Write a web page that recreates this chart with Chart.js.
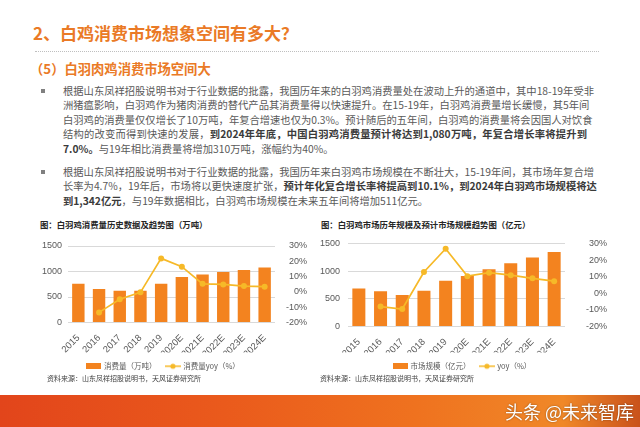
<!DOCTYPE html>
<html><head><meta charset="utf-8">
<script src="https://cdn.jsdelivr.net/npm/chart.js@4"></script>
<style>
body{margin:0;width:640px;height:427px;position:relative;overflow:hidden;background:#fff;font-family:"Noto Sans CJK SC",sans-serif;}
.abs{position:absolute;white-space:nowrap;}
#title{left:33px;top:22px;font-size:17px;font-weight:bold;color:#EA7A26;line-height:22px;}
#dots{left:35px;top:51px;width:564px;height:0;border-top:1px dotted #BFBFBF;}
#sub{left:30px;top:60px;font-size:13.3px;font-weight:bold;color:#EA7A26;line-height:18px;}
.ln{position:absolute;left:63px;width:524px;font-size:10.3px;line-height:14.5px;height:14.5px;color:#595959;white-space:nowrap;}
.j{text-align:justify;text-align-last:justify;}
.ln b{color:#3a3a3a;}
.bul{position:absolute;left:41px;width:4px;height:4px;background:#808080;}
.ct{position:absolute;font-size:8.4px;font-weight:bold;color:#262626;line-height:12px;white-space:nowrap;}
.src{position:absolute;font-size:7px;color:#404040;line-height:10px;white-space:nowrap;}
#band{left:0;top:395px;width:640px;height:32px;background:linear-gradient(90deg,#E2451B 0%,#EA5A1C 35%,#EF721F 65%,#F08828 88%,#C9521B 100%);}
#wm{left:505px;top:399px;font-size:18px;color:#fff;line-height:24px;text-shadow:0 0 2px rgba(0,0,0,0.45);}
.cbox{position:absolute;}
</style></head>
<body>
<div id="title" class="abs">2、白鸡消费市场想象空间有多大？</div>
<div id="dots" class="abs"></div>
<div id="sub" class="abs">（5）白羽肉鸡消费市场空间大</div>

<div class="bul" style="top:89px"></div>
<div class="ln j" style="top:83.75px">根据山东凤祥招股说明书对于行业数据的批露，我国历年来的白羽鸡消费量处在波动上升的通道中，其中18-19年受非</div>
<div class="ln j" style="top:98.25px">洲猪瘟影响，白羽鸡作为猪肉消费的替代产品其消费量得以快速提升。在15-19年，白羽鸡消费量增长缓慢，其5年间</div>
<div class="ln j" style="top:112.75px">白羽鸡的消费量仅仅增长了10万吨，年复合增速也仅为0.3%。预计随后的五年间，白羽鸡的消费量将会因国人对饮食</div>
<div class="ln j" style="top:127.25px">结构的改变而得到快速的发展，<b>到2024年年底，中国白羽鸡消费量预计将达到1,080万吨，年复合增长率将提升到</b></div>
<div class="ln" style="top:141.75px"><b>7.0%。</b>与19年相比消费量将增加310万吨，涨幅约为40%。</div>

<div class="bul" style="top:170px"></div>
<div class="ln j" style="top:164.75px">根据山东凤祥招股说明书对于行业数据的批露，我国历年来白羽鸡市场规模在不断壮大，15-19年间，其市场年复合增</div>
<div class="ln j" style="top:179.25px">长率为4.7%，19年后，市场将以更快速度扩张，<b>预计年化复合增长率将提高到10.1%，到2024年白羽鸡市场规模将达</b></div>
<div class="ln" style="top:193.75px"><b>到1,342亿元</b>，与19年数据相比，白羽鸡市场规模在未来五年间将增加511亿元。</div>

<div class="ct" style="left:40px;top:218px">图：白羽鸡消费量历史数据及趋势图（万吨）</div>
<div class="ct" style="left:321px;top:218px">图：白羽鸡市场历年规模及预计市场规模趋势图（亿元）</div>

<div class="cbox" style="left:20px;top:230px;width:287px;height:150px"><canvas id="c1"></canvas></div>
<div class="cbox" style="left:318px;top:230px;width:289px;height:150px"><canvas id="c2"></canvas></div>

<div class="src" style="left:47px;top:373px">资料来源：山东凤祥招股说明书，天风证券研究所</div>
<div class="src" style="left:320px;top:373px">资料来源：山东凤祥招股说明书，天风证券研究所</div>

<div id="band" class="abs"></div>
<div id="wm" class="abs">头条 @未来智库</div>

<script>
const years = ['2015','2016','2017','2018','2019','2020E','2021E','2022E','2023E','2024E'];
const consumption = [760, 655, 622, 625, 762, 891, 943, 989, 1028, 1076];
const consumptionYoy = [null, -13.4, -4.8, -0.3, 21.9, 16.5, 5.3, 4.9, 3.8, 3.4];
const marketSize = [685, 635, 567, 646, 826, 910, 1034, 1140, 1247, 1343];
const marketYoy = [null, -8.0, -9.5, 12.8, 26.8, 10.3, 12.4, 10.9, 9.0, 7.3];
const leftAxisRange = [0, 1500, 500];
const rightAxisRange = [-20, 30, 10];

const BAR = '#F3831F';
const LINE = '#F6B928';
const TXT = '#595959';

function iconBar(){
  const c = document.createElement('canvas'); c.width = 15; c.height = 6;
  const x = c.getContext('2d'); x.fillStyle = BAR; x.fillRect(0,0,15,6); return c;
}
function iconLine(){
  const c = document.createElement('canvas'); c.width = 16; c.height = 8;
  const x = c.getContext('2d'); x.strokeStyle = LINE; x.lineWidth = 1.5;
  x.beginPath(); x.moveTo(0,4); x.lineTo(16,4); x.stroke();
  x.fillStyle = LINE; x.beginPath(); x.arc(8,4,2.6,0,Math.PI*2); x.fill(); return c;
}

function makeChart(id, barLabel, barData, lineLabel, lineData, g){
  const icons = [iconBar(), iconLine()];
  return new Chart(document.getElementById(id), {
    type: 'bar',
    data: {
      labels: years,
      datasets: [
        {type:'bar', label: barLabel, data: barData, backgroundColor: BAR, yAxisID:'y',
         barPercentage: 0.6, categoryPercentage: 1.0, order: 2},
        {type:'line', label: lineLabel, data: lineData, borderColor: LINE, backgroundColor: LINE,
         borderWidth: 1.7, pointRadius: 3, pointBackgroundColor: LINE, pointBorderWidth: 0,
         yAxisID:'y1', order: 1, tension: 0}
      ]
    },
    options: {
      responsive: true, maintainAspectRatio: false, animation: false,
      layout: {padding: {top: g.padTop, left: 0, right: 0, bottom: 0}},
      plugins: {
        tooltip: {enabled: false},
        legend: {
          position: 'bottom',
          labels: {
            usePointStyle: true, pointStyleWidth: 13, boxHeight: 8, padding: 10,
            font: {family: '"Noto Sans CJK SC", sans-serif', size: 7.5}, color: TXT,
            generateLabels(chart){
              return chart.data.datasets.map((ds, i) => ({
                text: ds.label, pointStyle: icons[i], fillStyle: 'rgba(0,0,0,0)',
                strokeStyle: 'rgba(0,0,0,0)', lineWidth: 0, hidden: false, datasetIndex: i, fontColor: TXT
              }));
            }
          }
        }
      },
      scales: {
        x: {
          grid: {display: false}, border: {display: false},
          ticks: {minRotation: 45, maxRotation: 45, padding: 2, color: TXT,
                  font: {family: '"Liberation Sans", sans-serif', size: 9.5}},
          afterFit(s){ s.height = g.xH; }
        },
        y: {
          position: 'left', min: leftAxisRange[0], max: leftAxisRange[1],
          grid: {color: '#D9D9D9', drawTicks: false, lineWidth: 1}, border: {display: false},
          ticks: {stepSize: leftAxisRange[2], padding: g.yPad, color: TXT,
                  font: {family: '"Liberation Sans", sans-serif', size: 9},
                  callback: v => String(v)},
          afterFit(s){ s.width = g.yW; }
        },
        y1: {
          position: 'right', min: rightAxisRange[0], max: rightAxisRange[1],
          grid: {display: false, drawTicks: false}, border: {display: false},
          ticks: {stepSize: rightAxisRange[2], padding: 3, crossAlign: 'far', color: TXT,
                  font: {family: '"Liberation Sans", sans-serif', size: 9},
                  callback: v => v + '%'},
          afterFit(s){ s.width = g.y1W; }
        }
      }
    }
  });
}

makeChart('c1', '消费量（万吨）', consumption, '消费量yoy（%）', consumptionYoy,
  {padTop: 16, xH: 30, yW: 48, y1W: 32, yPad: 6});
makeChart('c2', '市场规模（亿元）', marketSize, 'yoy（%）', marketYoy,
  {padTop: 6.7, xH: 26, yW: 30, y1W: 42, yPad: 8});
</script>
</body></html>
